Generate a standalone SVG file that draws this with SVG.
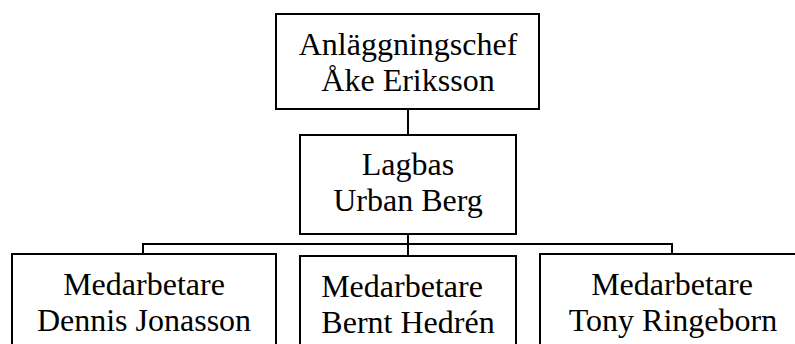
<svg xmlns="http://www.w3.org/2000/svg" width="795" height="344" viewBox="0 0 795 344">
<style>
.box{fill:#fff;stroke:#000;stroke-width:2}
.t{font-family:"Liberation Serif","Times New Roman",serif;font-size:32px;fill:#000;text-anchor:middle}
.c{fill:none;stroke:#000;stroke-width:2}
</style>
<rect width="795" height="344" fill="#fff"/>
<g id="connectors">
<line class="c" x1="408" y1="109" x2="408" y2="135"/>
<line class="c" x1="408" y1="234" x2="408" y2="256"/>
<polyline class="c" points="143,254 143,244 672,244 672,254"/>
</g>
<g id="chef">
<rect class="box" x="276" y="14" width="263" height="95"/>
<text class="t" x="408" y="55">Anläggningschef</text>
<text class="t" x="408" y="91">Åke Eriksson</text>
</g>
<g id="lagbas">
<rect class="box" x="300" y="135" width="216" height="99"/>
<text class="t" x="408" y="175">Lagbas</text>
<text class="t" x="408" y="211">Urban Berg</text>
</g>
<g id="dennis">
<rect class="box" x="12" y="254" width="264" height="120"/>
<text class="t" x="144" y="295">Medarbetare</text>
<text class="t" x="144" y="331">Dennis Jonasson</text>
</g>
<g id="bernt">
<rect class="box" x="300" y="256" width="216" height="120"/>
<text class="t" x="402" y="297">Medarbetare</text>
<text class="t" x="408" y="333">Bernt Hedrén</text>
</g>
<g id="tony">
<rect class="box" x="540" y="254" width="270" height="120"/>
<text class="t" x="672" y="295">Medarbetare</text>
<text class="t" x="673" y="331">Tony Ringeborn</text>
</g>
</svg>
